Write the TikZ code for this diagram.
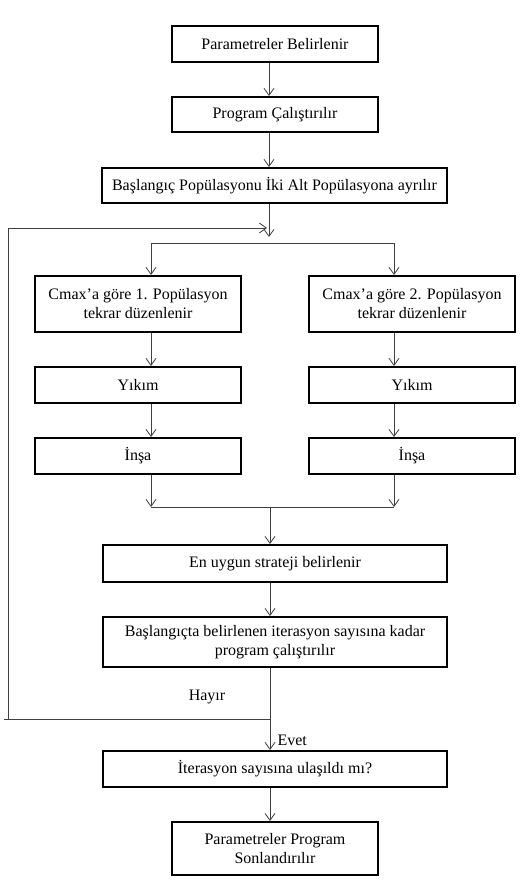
\documentclass[tikz,border=0pt]{standalone}
\usepackage{fontspec}
\setmainfont{Liberation Serif}
\usetikzlibrary{arrows.meta}
\tikzset{
  kutu/.style={draw, line width=2pt, inner sep=0pt, align=center,
    font=\fontsize{16}{19}\selectfont},
  ok/.style={draw=black!75, line width=0.8pt, -{Straight Barb[length=7pt,width=10pt]}},
  cizgi/.style={draw=black!75, line width=0.8pt},
  etiket/.style={font=\fontsize{16}{19}\selectfont}
}
\begin{document}
\begin{tikzpicture}[x=1pt,y=-1pt]
   \useasboundingbox (0,0) rectangle (524,891);
   % ana kutular
   \node[kutu, minimum width=206pt, minimum height=36pt] (par) at (275,44) {Parametreler Belirlenir};
   \node[kutu, minimum width=206pt, minimum height=35pt] (prog) at (275,114.5) {Program Çalıştırılır};
   \node[kutu, minimum width=345pt, minimum height=35pt] (bol) at (274.5,185.5) {Başlangıç Popülasyonu İki Alt Popülasyona ayrılır};
   % sol kol
   \node[kutu, minimum width=206pt, minimum height=56pt] (cmaxa) at (138,304) {Cmax’a göre 1. Popülasyon\\tekrar düzenlenir};
   \node[kutu, minimum width=206pt, minimum height=36pt] (yikima) at (138,385) {Yıkım};
   \node[kutu, minimum width=206pt, minimum height=36pt] (insaa) at (138,456) {İnşa};
   % sag kol
   \node[kutu, minimum width=206pt, minimum height=56pt] (cmaxb) at (412,304) {Cmax’a göre 2. Popülasyon\\tekrar düzenlenir};
   \node[kutu, minimum width=206pt, minimum height=36pt] (yikimb) at (412,385) {Yıkım};
   \node[kutu, minimum width=206pt, minimum height=36pt] (insab) at (412,456) {İnşa};
   % alt kutular
   \node[kutu, minimum width=344pt, minimum height=37pt] (strat) at (275,563.5) {En uygun strateji belirlenir};
   \node[kutu, minimum width=344pt, minimum height=50pt] (iter) at (275,642) {Başlangıçta belirlenen iterasyon sayısına kadar\\program çalıştırılır};
   \node[kutu, minimum width=344pt, minimum height=36pt] (soru) at (275,769) {İterasyon sayısına ulaşıldı mı?};
   \node[kutu, minimum width=206pt, minimum height=53pt] (son) at (275,848.5) {Parametreler Program\\Sonlandırılır};
   % yardimci noktalar
   \coordinate (govde) at (270,0);
   \coordinate (kolA) at (151,0);
   \coordinate (kolB) at (394,0);
   \coordinate (giris) at (269,237);
   \coordinate (ayir) at (270,243);
   \coordinate (birles) at (270,507);
   \coordinate (donus) at (270,719);
   \coordinate (solust) at (8,228);
   \coordinate (solalt) at (8,719);
   % baglantilar
   \draw[ok] (par.south -| giris) -- (prog.north -| giris);
   \draw[ok] (prog.south -| giris) -- (bol.north -| giris);
   \draw[ok] (bol.south -| giris) -- (giris);
   \draw[cizgi] (ayir -| kolA) -- (ayir -| kolB);
   \draw[ok] (ayir -| kolA) -- (cmaxa.north -| kolA);
   \draw[ok] (ayir -| kolB) -- (cmaxb.north -| kolB);
   \draw[ok] (cmaxa.south -| kolA) -- (yikima.north -| kolA);
   \draw[ok] (yikima.south -| kolA) -- (insaa.north -| kolA);
   \draw[ok] (cmaxb.south -| kolB) -- (yikimb.north -| kolB);
   \draw[ok] (yikimb.south -| kolB) -- (insab.north -| kolB);
   \draw[ok] (insaa.south -| kolA) -- (birles -| kolA);
   \draw[ok] (insab.south -| kolB) -- (birles -| kolB);
   \draw[cizgi] (birles -| kolA) -- (birles -| kolB);
   \draw[ok] (birles) -- (strat.north -| govde);
   \draw[ok] (strat.south -| govde) -- (iter.north -| govde);
   \draw[cizgi] (iter.south -| govde) -- (donus);
   \draw[ok] (donus) -- (soru.north -| govde);
   \draw[ok] (soru.south -| govde) -- (son.north -| govde);
   % geri donus
   \draw[cizgi] (donus) -- ([xshift=-4pt]solalt);
   \draw[ok] (solalt) -- (solust) -- ([xshift=-2pt]solust -| giris);
   \node[etiket] (hayir) at (207,697) {Hayır};
   \node[etiket, anchor=west] (evet) at (274,740) {Evet};
 \end{tikzpicture}
\end{document}
